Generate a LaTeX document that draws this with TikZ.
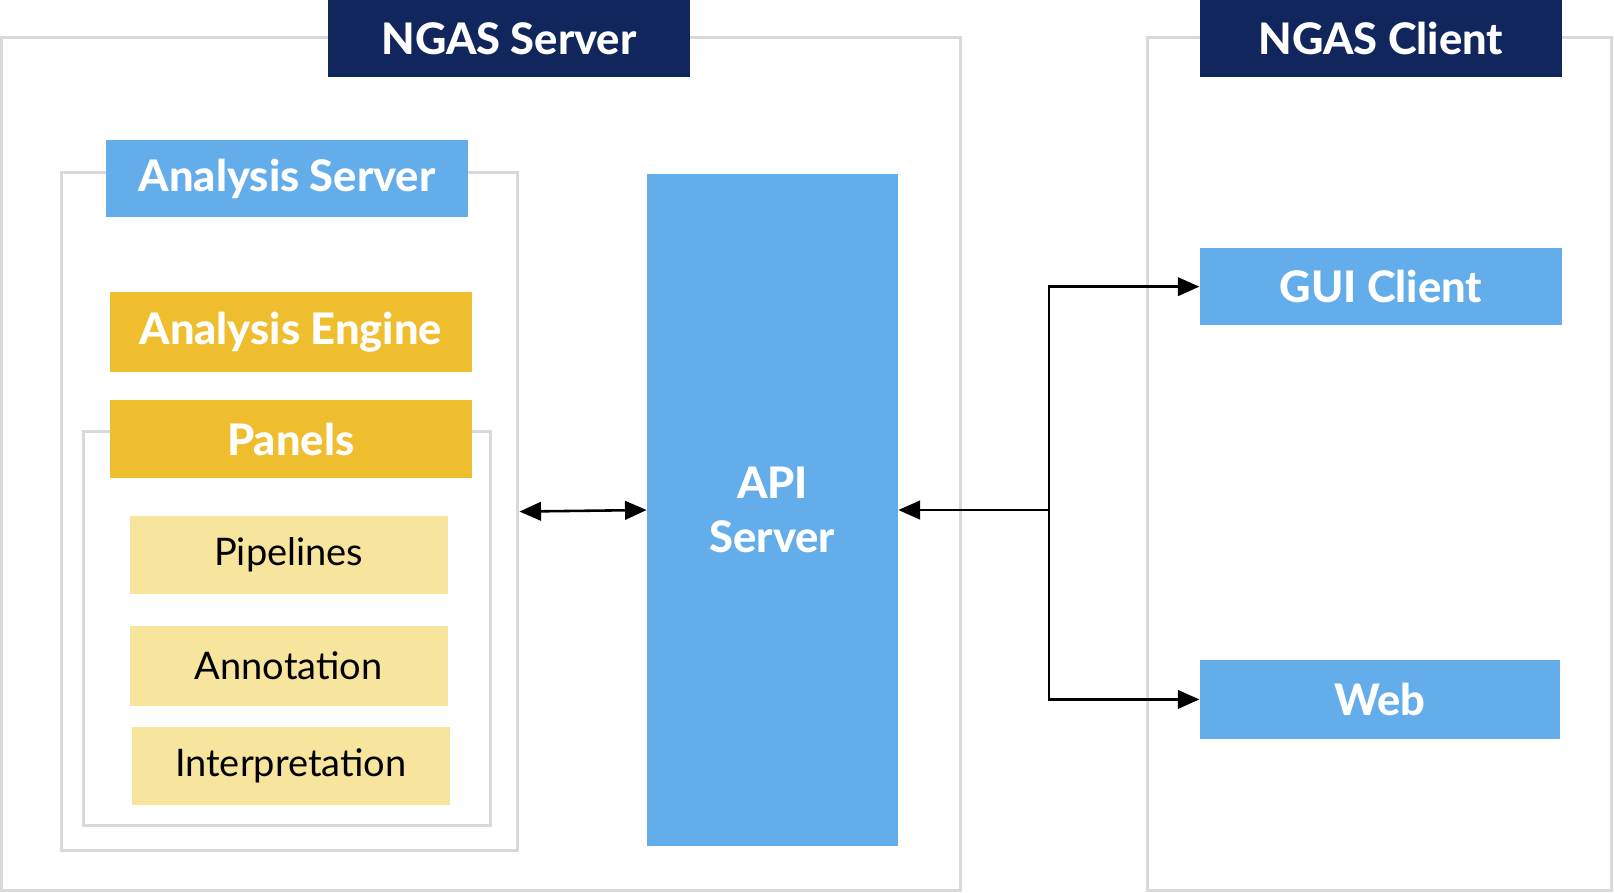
\documentclass[tikz,border=0pt]{standalone}
\usepackage{fontspec}
\setmainfont{Lato}[BoldFont={Lato Heavy}]
\usetikzlibrary{arrows.meta}

\definecolor{navy}{HTML}{12265E}
\definecolor{skyblue}{HTML}{63AEEA}
\definecolor{gold}{HTML}{EFBE2E}
\definecolor{pale}{HTML}{F7E49D}
\definecolor{frame}{HTML}{D9D9D9}

\begin{document}
\begin{tikzpicture}[x=0.01cm,y=-0.01cm,
    >={Triangle[length=0.21cm,width=0.18cm]},
    frame/.style={draw=frame,line width=0.03cm,inner sep=0pt},
    title/.style={fill=#1,text=white,inner sep=0pt,font=\fontsize{12}{15}\selectfont\bfseries},
    item/.style={fill=pale,inner sep=0pt,minimum width=3.09cm,font=\fontsize{10.5}{13}\selectfont},
    link/.style={line width=0.025cm}]
  \useasboundingbox (0,0) rectangle (1568,867);

  % outer frames
  \node[frame,minimum width=9.31cm,minimum height=8.28cm] (serverbox) at (467.5,451) {};
  \node[frame,minimum width=4.50cm,minimum height=8.28cm] (clientbox) at (1340,451) {};
  \node[frame,minimum width=4.43cm,minimum height=6.58cm] (analysisbox) at (281.5,497) {};
  \node[frame,minimum width=3.95cm,minimum height=3.83cm] (panelbox) at (278.5,610.5) {};

  % titles
  \node[title=navy,minimum width=3.51cm,minimum height=0.75cm] (server) at (494.5,37.5) {NGAS Server};
  \node[title=navy,minimum width=3.51cm,minimum height=0.75cm] (client) at (1341.5,37.5) {NGAS Client};
  \node[title=skyblue,minimum width=3.52cm,minimum height=0.75cm] (analysis) at (279,173.5) {Analysis Server};
  \node[title=gold,minimum width=3.51cm,minimum height=0.77cm] (engine) at (282.5,322.5) {Analysis Engine};
  \node[title=gold,minimum width=3.51cm,minimum height=0.75cm] (panels) at (282.5,426.5) {Panels};

  \node[item,minimum height=0.76cm] (pipelines) at (280.5,539) {Pipelines};
  \node[item,minimum height=0.78cm] (annotation) at (280.5,647) {Annotation};
  \node[item,minimum height=0.76cm] (interpretation) at (282.5,744) {Interpretation};

  \node[title=skyblue,minimum width=2.43cm,minimum height=6.53cm,align=center] (api) at (750.5,495.5) {API\\Server};
  \node[title=skyblue,minimum width=3.51cm,minimum height=0.75cm] (gui) at (1341.5,278.5) {GUI Client};
  \node[title=skyblue,minimum width=3.49cm,minimum height=0.77cm] (web) at (1340.5,679.5) {Web};

  % connectors
  \draw[link,<->] (analysisbox.east) -- (api.west);
  \coordinate (split) at (1019,495.5);
  \draw[link,->] (split) -- (api.east);
  \draw[link,->] (split) |- (gui.west);
  \draw[link,->] (split) |- (web.west);
\end{tikzpicture}
\end{document}
